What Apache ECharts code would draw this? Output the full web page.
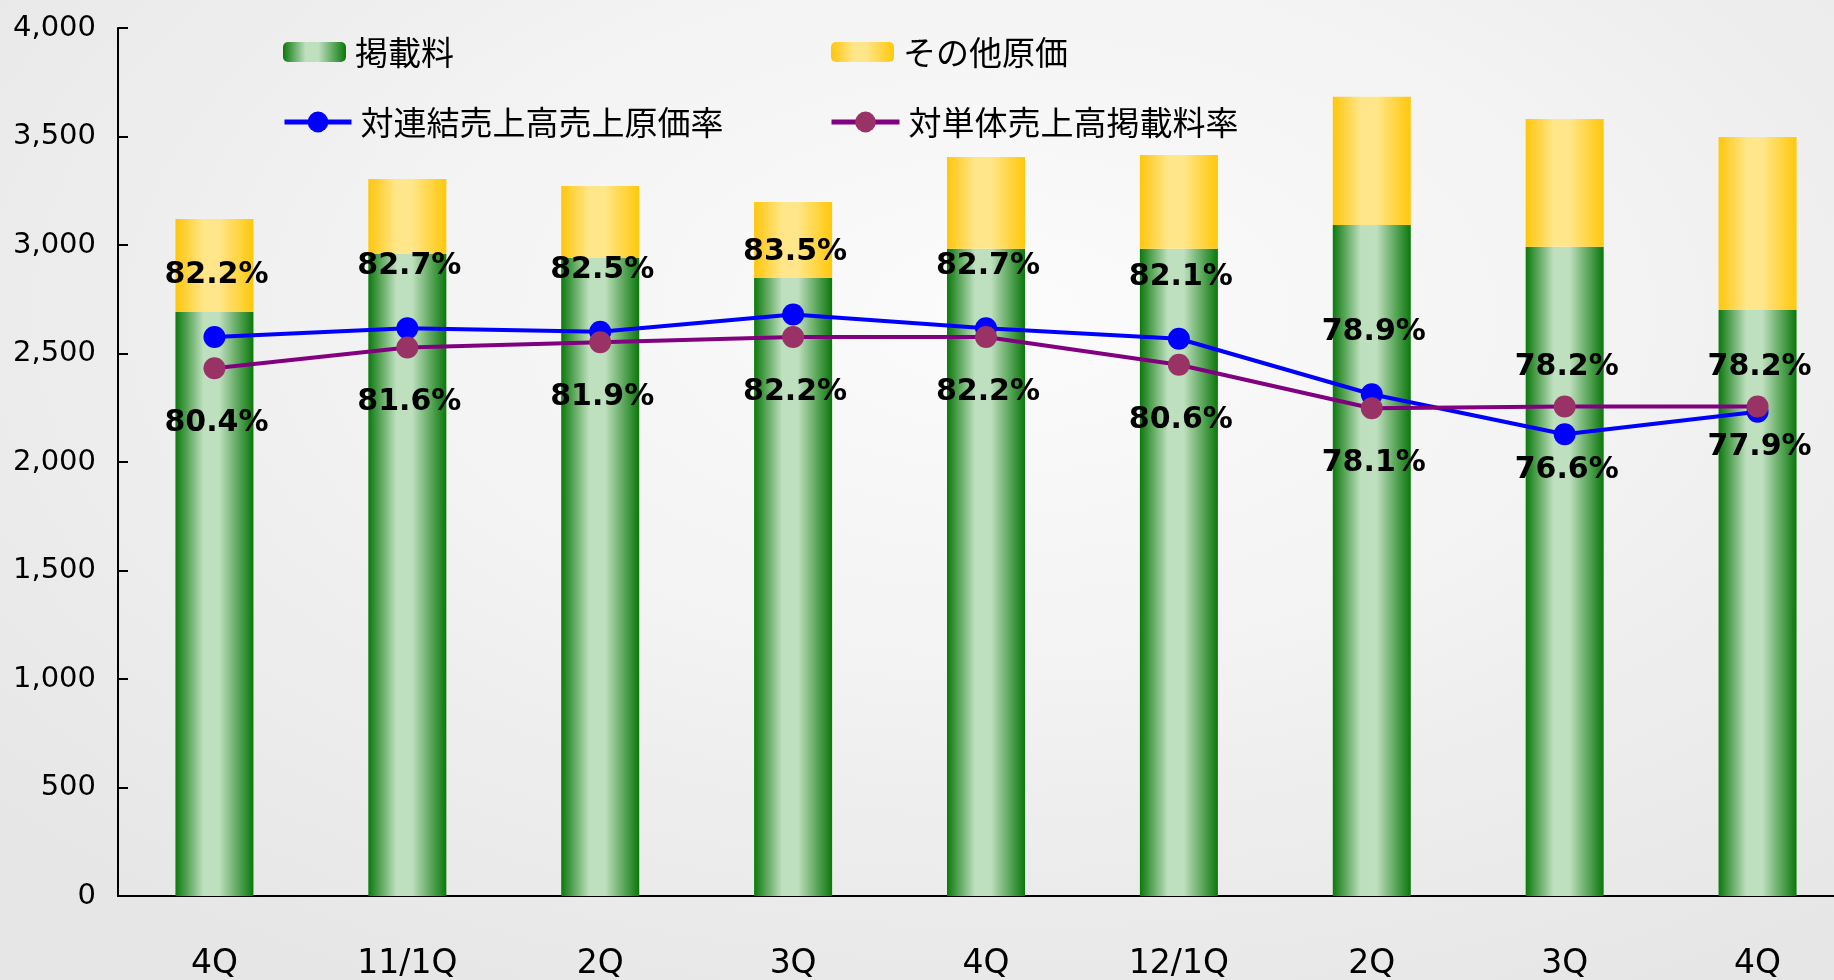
<!DOCTYPE html>
<html>
<head>
<meta charset="utf-8">
<script src="https://cdn.jsdelivr.net/npm/echarts@6/dist/echarts.min.js"></script>
<style>
  html, body { margin: 0; padding: 0; }
  #chart {
    width: 1834px; height: 980px;
    background: radial-gradient(ellipse 75% 80% at 55% 32%, #fbfbfb 0%, #f4f4f4 40%, #ebebeb 75%, #e6e6e6 100%);
  }
</style>
</head>
<body>
<div id="chart"></div>
<script>
// Quarterly cost breakdown (million yen) and cost ratios (%)
const categories = ['4Q', '11/1Q', '2Q', '3Q', '4Q', '12/1Q', '2Q', '3Q', '4Q'];
const listingFee = [2691, 2959, 2940, 2848, 2983, 2983, 3092, 2992, 2700];
const otherCost  = [429, 345, 332, 350, 422, 432, 591, 589, 798];
const costRatio  = [82.2, 82.7, 82.5, 83.5, 82.7, 82.1, 78.9, 76.6, 77.9];
const feeRatio   = [80.4, 81.6, 81.9, 82.2, 82.2, 80.6, 78.1, 78.2, 78.2];
const yTicks     = [0, 500, 1000, 1500, 2000, 2500, 3000, 3500, 4000];
const ratioRange = [50, 100];

const chart = echarts.init(document.getElementById('chart'), null, { renderer: 'canvas' });

const NUM_FONT = '"DejaVu Sans", Verdana, sans-serif';
const JP_FONT = '"Noto Sans CJK JP", sans-serif';

function hGrad(edgeL, mid, edgeR) {
  return new echarts.graphic.LinearGradient(0, 0, 1, 0, [
    { offset: 0, color: edgeL },
    { offset: 0.36, color: mid },
    { offset: 0.56, color: mid },
    { offset: 1, color: edgeR }
  ]);
}
const greenFill = hGrad('#0c790c', '#bfe0bf', '#0a780a');
const yellowFill = hGrad('#ffc60c', '#ffe68a', '#ffc80a');

// Label placement: the higher line gets its label above, the lower one below
function labelOffset(i, isCost) {
  const costAbove = costRatio[i] >= feeRatio[i];
  if (costAbove) return isCost ? -62 : 55;
  return isCost ? 36 : -39;
}

function ratioData(values, isCost) {
  return values.map((v, i) => ({
    value: v,
    label: { offset: [2, labelOffset(i, isCost)] }
  }));
}

const ratioLabel = {
  show: true,
  position: 'inside',
  formatter: p => p.value.toFixed(1) + '%',
  color: '#000',
  fontFamily: NUM_FONT,
  fontWeight: 'bold',
  fontSize: 30,
  textBorderWidth: 0
};

function legendAt(name, left, top, w, h, isLine) {
  const lg = {
    data: [name],
    left: left, top: top,
    padding: 0,
    itemWidth: w, itemHeight: h,
    selectedMode: false,
    textStyle: { fontFamily: JP_FONT, fontSize: 33, lineHeight: 34, color: '#000', padding: [0, 0, 0, 4] }
  };
  if (isLine) lg.lineStyle = { width: 5 };
  return lg;
}

const option = {
  backgroundColor: 'transparent',
  animation: false,
  legend: [
    legendAt('掲載料', 283, 35, 63, 20, false),
    legendAt('その他原価', 831, 35, 63, 20, false),
    legendAt('対連結売上高売上原価率', 282, 105, 67, 26, true),
    legendAt('対単体売上高掲載料率', 829, 105, 68, 26, true)
  ],
  grid: { left: 118, top: 28, width: 1736, bottom: 84, outerBoundsMode: 'none', containLabel: false },
  xAxis: {
    type: 'category',
    data: categories,
    boundaryGap: true,
    axisLine: { lineStyle: { color: '#000', width: 2 } },
    axisTick: { inside: true, length: 12, lineStyle: { color: '#000', width: 2 } },
    axisLabel: { color: '#000', fontFamily: NUM_FONT, fontSize: 33, margin: 52 }
  },
  yAxis: [
    {
      type: 'value',
      min: yTicks[0], max: yTicks[yTicks.length - 1], interval: yTicks[1] - yTicks[0],
      axisLine: { show: true, lineStyle: { color: '#000', width: 2 } },
      axisTick: { show: true, inside: true, length: 10, lineStyle: { color: '#000', width: 2 } },
      splitLine: { show: false },
      axisLabel: {
        color: '#000', fontFamily: NUM_FONT, fontSize: 29, margin: 22,
        formatter: v => v.toLocaleString('en-US')
      }
    },
    {
      type: 'value',
      min: ratioRange[0], max: ratioRange[1],
      show: false,
      splitLine: { show: false }
    }
  ],
  series: [
    {
      name: '掲載料',
      type: 'bar',
      stack: 'cost',
      barWidth: 78,
      data: listingFee,
      itemStyle: { color: greenFill }
    },
    {
      name: 'その他原価',
      type: 'bar',
      stack: 'cost',
      barWidth: 78,
      data: otherCost,
      itemStyle: { color: yellowFill }
    },
    {
      name: '対連結売上高売上原価率',
      type: 'line',
      yAxisIndex: 1,
      data: ratioData(costRatio, true),
      symbol: 'circle',
      symbolSize: 22,
      lineStyle: { color: '#0000ff', width: 4 },
      itemStyle: { color: '#0000ff' },
      label: ratioLabel,
      z: 3
    },
    {
      name: '対単体売上高掲載料率',
      type: 'line',
      yAxisIndex: 1,
      data: ratioData(feeRatio, false),
      symbol: 'circle',
      symbolSize: 22,
      lineStyle: { color: '#800080', width: 4 },
      itemStyle: { color: '#993366' },
      label: ratioLabel,
      z: 4
    }
  ]
};

chart.setOption(option);
</script>
</body>
</html>
